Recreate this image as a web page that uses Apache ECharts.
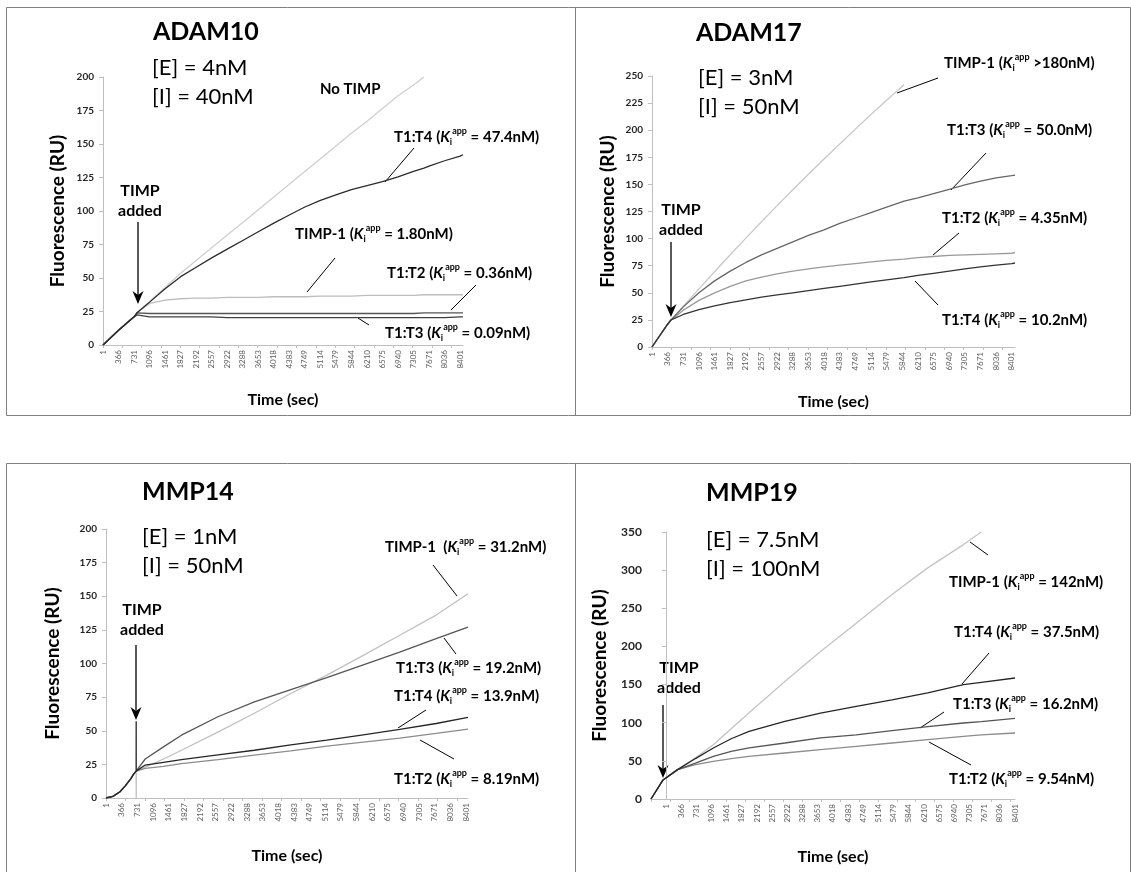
<!DOCTYPE html>
<html>
<head>
<meta charset="utf-8">
<title>TIMP inhibition of ADAM10, ADAM17, MMP14, MMP19</title>
<script src="https://cdn.jsdelivr.net/npm/echarts@6/dist/echarts.min.js"></script>
<style>
  html, body { margin: 0; padding: 0; background: #fff; }
  #chart { width: 1131px; height: 872px; }
</style>
</head>
<body>
<div id="chart"></div>
<script>
// tick labels on every time axis (sec)
var timeLabels = [1, 366, 731, 1096, 1461, 1827, 2192, 2557, 2922, 3288, 3653, 4018,
    4383, 4749, 5114, 5479, 5844, 6210, 6575, 6940, 7305, 7671, 8036, 8401];

// ADAM10 — sample times and values
var adam10Time = [0, 365, 731, 800, 1096, 1461, 1827, 2192, 2557, 2922, 3288, 3653, 4018,
    4383, 4749, 5114, 5479, 5844, 6210, 6575, 6940, 7305, 7550, 7671, 8036, 8401, 8469];
var adam10NoTimp = [0, 11, 21, 24, 32.5, 43, 53.5, 63, 72.5, 82, 91.5, 101, 110.5,
    120, 129.5, 139, 148.5, 158, 167, 176.5, 186, 194, 200];
var adam10T1T4 = [0, 11, 21, 24, 32, 42, 51, 58, 65, 71.5, 78, 84.5, 91,
    97, 103, 108, 112, 116, 119, 122, 125.5, 129.5, 132, 133.5, 137.5, 141, 142];
var adam10Timp1 = [0, 11, 21, 24, 31, 33.5, 34.5, 35, 35, 35.5, 35.5, 35.5, 36,
    36, 36, 36.5, 36.5, 36.5, 37, 37, 37, 37, 37.5, 37.5, 37.5, 37.5, 37.5];
var adam10T1T2 = [0, 11, 21, 24, 23.5, 23.5, 23.5, 23.5, 23.5, 23.5, 23.5, 23.5, 23.5,
    23.5, 23.5, 23.5, 23.5, 23.5, 23.5, 23.5, 23.5, 23.5, 24, 24, 24, 24, 24];
var adam10T1T3 = [0, 11, 21, 22.5, 21, 21, 21, 21, 21, 20.5, 20.5, 20.5, 20.5,
    20.5, 20.5, 20.5, 20.5, 20.5, 20.5, 20.5, 20.5, 20.5, 20.5, 20.5, 20.5, 21, 21];

// ADAM17
var adam17Time = [0, 365, 446, 731, 1096, 1461, 1827, 2192, 2557, 2922, 3288, 3653, 4018,
    4383, 4749, 5114, 5479, 5886, 6210, 6575, 6940, 7305, 7671, 8036, 8401, 8477];
var adam17Timp1 = [0, 21, 25, 37.6, 53.6, 69.4, 85.1, 100.4, 115.5, 130.4, 145, 159.4, 173.5,
    187.3, 201, 214.4, 227.6, 242];
var adam17T1T3 = [0, 21, 25, 37, 50, 61, 70, 78, 85, 91, 97, 103, 108,
    114, 119, 124, 129, 134.5, 137.5, 141.5, 145.5, 149.5, 153, 156, 158, 158.5];
var adam17T1T2 = [0, 21, 25, 34, 43, 50, 56, 61, 64.5, 67.5, 70, 72, 74,
    75.5, 77, 78.5, 80, 81, 82.5, 83.5, 84.5, 85, 85.5, 86, 86.5, 87];
var adam17T1T4 = [0, 21, 25, 30, 34.5, 38, 41, 43.5, 46, 48, 50, 52, 54,
    56, 58, 60, 62, 64, 66, 68, 70, 72, 74, 75.5, 77, 77.5];

// MMP14 (spike / dip at the moment of TIMP addition)
var mmp14Time = [0, 160, 320, 450, 580, 640, 703, 704, 705, 706, 915, 1340, 1760, 2610, 3460, 4310,
    5150, 6000, 6850, 7700, 8443];
var mmp14Timp1 = [0, 1.2, 4.5, 9, 14.4, 17.5, 20, 20, 0, 20, 23, 29, 35.5, 49, 63, 77.7,
    91.4, 106, 121, 136, 151.8];
var mmp14T1T3 = [0, 1.2, 4.5, 9, 14.4, 17.5, 20, 20, 20, 20, 29, 38, 46.7, 60.4, 71.5, 80.5,
    89.5, 99, 108.5, 118.5, 127];
var mmp14T1T4 = [0, 1.2, 4.5, 9, 14.4, 17.5, 20, 57, 20, 20, 24.5, 26.5, 28.5, 32, 35.5, 39.5,
    43, 47, 51, 55.4, 60];
var mmp14T1T2 = [0, 1.2, 4.5, 9, 14.4, 17.5, 20, 20, 20, 20, 22, 23.5, 25.5, 28.5, 31.8, 35,
    38.5, 41.5, 44.5, 48, 51.2];

// MMP19
var mmp19Time = [-360, -70, 280, 710, 1140, 1570, 2000, 2860, 3720, 4580, 5440, 6300, 7160, 7590, 8401];
var mmp19Timp1 = [0, 25, 38.5, 54, 71, 92, 113, 154, 193.5, 230.5, 268, 303, 333.5, 350];
var mmp19T1T4 = [0, 25, 38.5, 53, 66.9, 79, 88.7, 101.8, 112.7, 121.5, 130, 139, 150, 153, 158.6];
var mmp19T1T3 = [0, 25, 38.5, 47, 56, 62.5, 67, 73.4, 80, 84, 89.6, 95, 99.6, 101.5, 105.8];
var mmp19T1T2 = [0, 25, 38.5, 45, 49.4, 53, 56, 60.3, 64.7, 69, 73.4, 77.8, 82, 84, 86.5];

var FONT = 'Lato, "Open Sans", sans-serif';

var toPoints = function (times, values) {
    var pts = [];
    for (var i = 0; i < values.length; i++) {
        pts.push([times[i], values[i]]);
    }
    return pts;
};

// layout of the four panels
var panels = [
    {grid: {left: 103, top: 77, width: 360, height: 268}, xMin: 0, xMax: 8469, yMax: 200, yStep: 25,
        yFont: 10, yGap: 36, xGap: 47,
        series: [
            {name: 'No TIMP', time: adam10Time, values: adam10NoTimp, color: '#cfcfcf'},
            {name: 'TIMP-1', time: adam10Time, values: adam10Timp1, color: '#bdbdbd'},
            {name: 'T1:T2', time: adam10Time, values: adam10T1T2, color: '#555555'},
            {name: 'T1:T3', time: adam10Time, values: adam10T1T3, color: '#404040'},
            {name: 'T1:T4', time: adam10Time, values: adam10T1T4, color: '#2b2b2b'}
        ]},
    {grid: {left: 652, top: 76, width: 363, height: 271}, xMin: 0, xMax: 8477, yMax: 250, yStep: 25,
        yFont: 10, yGap: 35, xGap: 47,
        series: [
            {name: 'TIMP-1', time: adam17Time, values: adam17Timp1, color: '#c8c8c8'},
            {name: 'T1:T2', time: adam17Time, values: adam17T1T2, color: '#9a9a9a'},
            {name: 'T1:T3', time: adam17Time, values: adam17T1T3, color: '#666666'},
            {name: 'T1:T4', time: adam17Time, values: adam17T1T4, color: '#333333'}
        ]},
    {grid: {left: 106, top: 529, width: 362, height: 269}, xMin: 0, xMax: 8443, yMax: 200, yStep: 25,
        yFont: 10, yGap: 44, xGap: 50,
        series: [
            {name: 'TIMP-1', time: mmp14Time, values: mmp14Timp1, color: '#c0c0c0'},
            {name: 'T1:T2', time: mmp14Time, values: mmp14T1T2, color: '#8c8c8c'},
            {name: 'T1:T3', time: mmp14Time, values: mmp14T1T3, color: '#555555'},
            {name: 'T1:T4', time: mmp14Time, values: mmp14T1T4, color: '#262626'}
        ]},
    {grid: {left: 651, top: 532, width: 364, height: 267}, xMin: -360, xMax: 8401, yMax: 350, yStep: 50,
        yFont: 12, yGap: 42, xGap: 50,
        series: [
            {name: 'TIMP-1', time: mmp19Time, values: mmp19Timp1, color: '#c4c4c4'},
            {name: 'T1:T2', time: mmp19Time, values: mmp19T1T2, color: '#8c8c8c'},
            {name: 'T1:T3', time: mmp19Time, values: mmp19T1T3, color: '#555555'},
            {name: 'T1:T4', time: mmp19Time, values: mmp19T1T4, color: '#262626'}
        ]}
];

// text annotations (pixel layout)
var headers = [
    {title: 'ADAM10', x: 153, y: 32, e: '[E] = 4nM', i: '[I] = 40nM', cy: 68, cx: 152},
    {title: 'ADAM17', x: 696, y: 33, e: '[E] = 3nM', i: '[I] = 50nM', cy: 78, cx: 698},
    {title: 'MMP14', x: 142, y: 492, e: '[E] = 1nM', i: '[I] = 50nM', cy: 537, cx: 142},
    {title: 'MMP19', x: 706, y: 493, e: '[E] = 7.5nM', i: '[I] = 100nM', cy: 540, cx: 706}
];

var timpAdded = [
    {x: 140, y: 201, ax: 138, a0: 222, a1: 304},
    {x: 681, y: 220, ax: 671, a0: 242, a1: 317},
    {x: 142, y: 620, ax: 136, a0: 645, a1: 720},
    {x: 679, y: 678, ax: 663, a0: 705, a1: 778}
];

var kiLabels = [
    {name: 'T1:T4', val: ' = 47.4nM', x: 394, y: 137, line: [414, 148, 385, 182]},
    {name: 'TIMP-1', val: ' = 1.80nM', x: 295, y: 234, line: [335, 258, 307, 292]},
    {name: 'T1:T2', val: ' = 0.36nM', x: 387, y: 273, line: [476, 285, 451, 310]},
    {name: 'T1:T3', val: ' = 0.09nM', x: 385, y: 333, line: [369, 325, 358, 318]},

    {name: 'TIMP-1', val: ' >180nM', x: 944, y: 63, line: [938, 78, 897, 93]},
    {name: 'T1:T3', val: ' = 50.0nM', x: 947, y: 130, line: [986, 153, 951, 190]},
    {name: 'T1:T2', val: ' = 4.35nM', x: 942, y: 218, line: [959, 233, 933, 255]},
    {name: 'T1:T4', val: ' = 10.2nM', x: 942, y: 320, line: [938, 305, 915, 281]},

    {name: 'TIMP-1 ', val: ' = 31.2nM', x: 385, y: 547, line: [433, 565, 457, 596]},
    {name: 'T1:T3', val: ' = 19.2nM', x: 396, y: 668, line: [456, 654, 444, 638]},
    {name: 'T1:T4', val: ' = 13.9nM', x: 394, y: 696, line: [426, 710, 398, 728]},
    {name: 'T1:T2', val: ' = 8.19nM', x: 394, y: 779, line: [454, 759, 420, 740]},

    {name: 'TIMP-1', val: ' = 142nM', x: 949, y: 582, line: [988, 555, 970, 542]},
    {name: 'T1:T4', val: ' = 37.5nM', x: 954, y: 632, line: [989, 653, 962, 684]},
    {name: 'T1:T3', val: ' = 16.2nM', x: 953, y: 704, line: [944, 712, 920, 728]},
    {name: 'T1:T2', val: ' = 9.54nM', x: 949, y: 779, line: [971, 765, 929, 742]}
];

var kiRich = {
    b: {fontFamily: FONT, fontWeight: 'bold', fontSize: 15, lineHeight: 20, fill: '#000'},
    k: {fontFamily: FONT, fontWeight: 'bold', fontStyle: 'italic', fontSize: 15, lineHeight: 20, fill: '#000'},
    sub: {fontFamily: FONT, fontWeight: 'bold', fontSize: 9, lineHeight: 9, verticalAlign: 'bottom', fill: '#000'},
    sup: {fontFamily: FONT, fontWeight: 'bold', fontSize: 9, lineHeight: 9, verticalAlign: 'top', fill: '#000'}
};

var buildGraphic = function () {
    var g = [];
    var border = {stroke: '#7f7f7f', lineWidth: 1, fill: null};
    g.push({type: 'rect', shape: {x: 6.5, y: 7.5, width: 1124, height: 408}, style: border});
    g.push({type: 'line', shape: {x1: 575.5, y1: 7.5, x2: 575.5, y2: 415.5}, style: border});
    g.push({type: 'polyline', shape: {points: [[6.5, 872], [6.5, 463.5], [1130.5, 463.5], [1130.5, 872]]}, style: border});
    g.push({type: 'line', shape: {x1: 575.5, y1: 463.5, x2: 575.5, y2: 872}, style: border});

    headers.forEach(function (h) {
        g.push({type: 'text', x: h.x, y: h.y, style: {text: h.title, font: 'bold 25px ' + FONT, fill: '#000', verticalAlign: 'middle'}});
        g.push({type: 'text', x: h.cx, y: h.cy, style: {text: h.e, font: '22px ' + FONT, fill: '#000', verticalAlign: 'middle'}});
        g.push({type: 'text', x: h.cx, y: h.cy + 29, style: {text: h.i, font: '22px ' + FONT, fill: '#000', verticalAlign: 'middle'}});
    });
    g.push({type: 'text', x: 320, y: 89, style: {text: 'No TIMP', font: 'bold 15px ' + FONT, fill: '#000', verticalAlign: 'middle'}});

    timpAdded.forEach(function (t) {
        g.push({type: 'text', x: t.x, y: t.y, style: {text: 'TIMP\nadded', font: 'bold 16px ' + FONT, lineHeight: 20,
            fill: '#000', align: 'center', verticalAlign: 'middle'}});
        g.push({type: 'line', shape: {x1: t.ax, y1: t.a0, x2: t.ax, y2: t.a1 - 6}, style: {stroke: '#000', lineWidth: 1.3}});
        g.push({type: 'polygon', shape: {points: [[t.ax, t.a1], [t.ax - 5.5, t.a1 - 13], [t.ax, t.a1 - 9], [t.ax + 5.5, t.a1 - 13]]},
            style: {fill: '#000'}});
    });

    kiLabels.forEach(function (k) {
        g.push({type: 'text', x: k.x, y: k.y, style: {
            text: '{b|' + k.name + ' (}{k|K}{sub|i}{sup|app}{b|' + k.val + ')}',
            rich: kiRich, verticalAlign: 'middle'}});
        g.push({type: 'line', shape: {x1: k.line[0], y1: k.line[1], x2: k.line[2], y2: k.line[3]},
            style: {stroke: '#000', lineWidth: 1}});
    });
    return g;
};

var option = {
    animation: false,
    backgroundColor: '#fff',
    grid: [], xAxis: [], yAxis: [], series: [],
    graphic: buildGraphic()
};

panels.forEach(function (p, idx) {
    var tickTimes = [];
    for (var t = p.xMin; t <= p.xMax; t += 455) tickTimes.push(t);

    option.grid.push({left: p.grid.left, top: p.grid.top, width: p.grid.width, height: p.grid.height,
        outerBoundsMode: 'none'});
    option.xAxis.push({
        type: 'value', gridIndex: idx, min: p.xMin, max: p.xMax,
        name: 'Time (sec)', nameLocation: 'middle', nameGap: p.xGap,
        nameTextStyle: {fontFamily: FONT, fontWeight: 'bold', fontSize: 16, color: '#000'},
        axisLine: {show: true, lineStyle: {color: '#bfbfbf', width: 1}},
        axisTick: {show: true, customValues: tickTimes, length: 3, lineStyle: {color: '#bfbfbf'}},
        axisLabel: {customValues: timeLabels, rotate: 90, fontSize: 8, fontFamily: FONT,
            color: '#606060', margin: 5, formatter: function (v) { return String(v); }},
        splitLine: {show: false}
    });
    option.yAxis.push({
        type: 'value', gridIndex: idx, min: 0, max: p.yMax, interval: p.yStep,
        name: 'Fluorescence (RU)', nameLocation: 'middle', nameRotate: 90, nameGap: p.yGap,
        nameTextStyle: {fontFamily: FONT, fontWeight: 'bold', fontSize: 19, color: '#000'},
        axisLine: {show: true, lineStyle: {color: '#bfbfbf', width: 1}},
        axisTick: {show: true, length: 4, lineStyle: {color: '#bfbfbf'}},
        axisLabel: {fontFamily: FONT, fontWeight: 'bold', fontSize: p.yFont, color: '#262626', margin: 9},
        splitLine: {show: false}
    });
    p.series.forEach(function (s) {
        option.series.push({
            name: s.name, type: 'line', xAxisIndex: idx, yAxisIndex: idx,
            data: toPoints(s.time, s.values),
            showSymbol: false, symbol: 'none', smooth: false,
            lineStyle: {color: s.color, width: 1.3},
            silent: true
        });
    });
});

var chart = echarts.init(document.getElementById('chart'), null, {renderer: 'canvas'});
chart.setOption(option);
</script>
</body>
</html>
